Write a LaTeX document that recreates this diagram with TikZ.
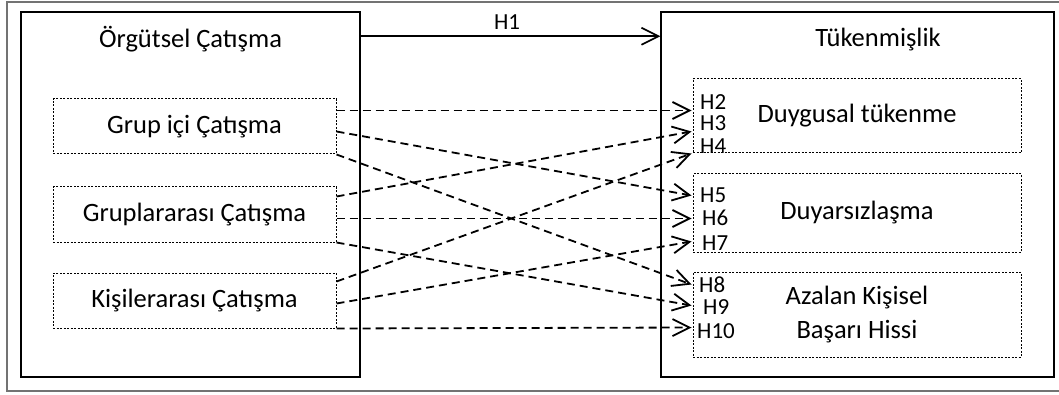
\documentclass[tikz,border=0pt]{standalone}
\usepackage{fontspec}
\setmainfont{Carlito}
\usetikzlibrary{arrows.meta,calc}
\begin{document}
\begin{tikzpicture}[x=1pt,y=1pt,
  frame/.style={draw=black!55, line width=1.8pt},
  bigbox/.style={draw=black, line width=1.5pt, inner sep=0pt},
  subbox/.style={draw=black, line width=1pt, dash pattern=on 2pt off 1.5pt, inner sep=0pt, align=center, font=\fontsize{26.5}{34}\selectfont},
  titletext/.style={font=\fontsize{26.5}{30}\selectfont, inner sep=0pt},
  hlab/.style={font=\fontsize{23}{23}\selectfont, inner sep=0pt, anchor=west},
  hyp/.style={draw=black, line width=1.8pt, dash pattern=on 8pt off 5pt, -{Straight Barb[length=17pt,width=17pt]}},
  mainarrow/.style={draw=black, line width=1.6pt, -{Straight Barb[length=17pt,width=17pt]}}]
\useasboundingbox (0,0) rectangle (1059,394);
\clip (0,0) rectangle (1059,394);
\draw[frame] (7,392) rectangle (1080,3);
% main boxes
\node[bigbox, minimum width=339pt, minimum height=365pt] (L) at (190.5,199.5) {};
\node[bigbox, minimum width=393pt, minimum height=365pt] (R) at (857.5,199.5) {};
\node[titletext] (Lt) at (190.5,355) {Örgütsel Çatışma};
\node[titletext] (Rt) at (878,354) {Tükenmişlik};
% sub boxes left
\node[subbox, minimum width=283pt, minimum height=55pt] (g1) at (194.5,267.5) {Grup içi Çatışma};
\node[subbox, minimum width=283pt, minimum height=55pt] (g2) at (194.5,179.5) {Gruplararası Çatışma};
\node[subbox, minimum width=283pt, minimum height=55pt] (g3) at (194.5,93.5) {Kişilerarası Çatışma};
% sub boxes right
\node[subbox, minimum width=328pt, minimum height=74pt] (d1) at (857,278) {Duygusal tükenme};
\node[subbox, minimum width=328pt, minimum height=78pt] (d2) at (857,181) {Duyarsızlaşma};
\node[subbox, minimum width=328pt, minimum height=85pt] (d3) at (857,79.5) {Azalan Kişisel\\Başarı Hissi};
% H1
\draw[mainarrow] ($(L.north east)+(0,-25)$) -- ($(R.north west)+(0,-25)$);
\node[font=\fontsize{23}{23}\selectfont, inner sep=0pt] (h1) at (507,372) {H1};
% hypothesis labels
\node[hlab] (h2) at (700,292) {H2};
\node[hlab] (h3) at (700,271) {H3};
\node[hlab] (h4) at (700,248) {H4};
\node[hlab] (h5) at (700,199) {H5};
\node[hlab] (h6) at (702,176) {H6};
\node[hlab] (h7) at (702,151) {H7};
\node[hlab] (h8) at (699,109) {H8};
\node[hlab] (h9) at (703,87) {H9};
\node[hlab] (h10) at (697,63) {H10};
% dashed arrows
\draw[hyp] ($(g1.north east)+(0,-12)$) -- ($(d1.north west)+(-1,-32)$);
\draw[hyp] ($(g1.north east)+(0,-33)$) -- ($(d2.north west)+(-1,-22)$);
\draw[hyp] (g1.south east) -- ($(d3.north west)+(-1,-13)$);
\draw[hyp] ($(g2.north east)+(0,-10)$) -- ($(d1.north west)+(-1,-53)$);
\draw[hyp] ($(g2.north east)+(0,-32)$) -- ($(d2.north west)+(-1,-45)$);
\draw[hyp] (g2.south east) -- ($(d3.north west)+(-1,-34)$);
\draw[hyp] ($(g3.north east)+(0,-9)$) -- ($(d1.south west)+(-1,0)$);
\draw[hyp] ($(g3.north east)+(0,-31)$) -- ($(d2.north west)+(-1,-68)$);
\draw[hyp] (g3.south east) -- ($(d3.north west)+(-1,-56)$);
\end{tikzpicture}
\end{document}
